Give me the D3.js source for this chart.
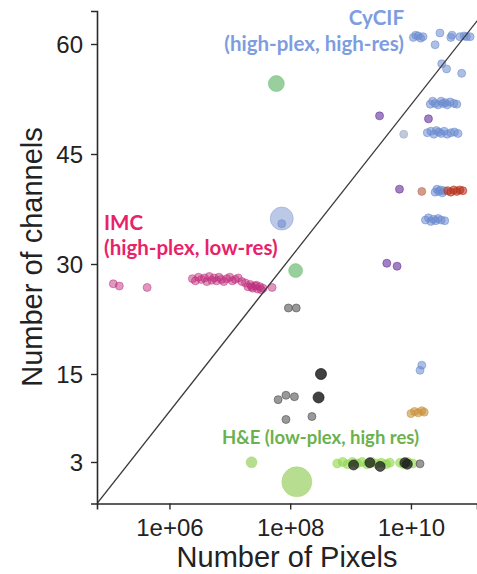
<!DOCTYPE html>
<html>
<head>
<meta charset="utf-8">
<script src="https://cdn.jsdelivr.net/npm/d3@7/dist/d3.min.js"></script>
<style>
  html, body { margin: 0; padding: 0; background: #fff; }
  svg { display: block; }
</style>
</head>
<body>
<svg id="chart" width="477" height="574"></svg>
<script>
// ---- data (log10 of number of pixels, number of channels) ----
const imcLogPx = [5.07, 5.17, 5.63, 6.38, 6.43, 6.48, 6.53, 6.58, 6.62, 6.66, 6.70, 6.74, 6.78, 6.82, 6.86, 6.90, 6.95, 7.00, 7.04, 7.09, 7.14, 7.20, 7.26, 7.30, 7.34, 7.38, 7.42, 7.46, 7.50, 7.55, 7.70, 7.36, 7.44, 7.52];
const imcCh    = [27.3, 27.0, 26.8, 28.0, 27.7, 28.2, 27.9, 28.1, 27.6, 28.3, 27.8, 28.1, 27.7, 28.2, 27.9, 27.6, 28.0, 28.2, 27.7, 27.9, 28.1, 27.6, 27.4, 26.9, 27.2, 26.7, 27.0, 26.6, 26.9, 26.7, 26.8, 26.9, 27.1, 26.5];

const cycifLogPx = [10.04, 10.08, 10.12, 10.20, 10.16, 10.40, 10.48, 10.68, 10.66, 10.81, 10.88, 10.92, 10.98,
                    10.51, 10.59, 10.84,
                    10.32, 10.36, 10.40, 10.45, 10.50, 10.53, 10.57, 10.60, 10.65, 10.71, 10.76,
                    10.27, 10.33, 10.38, 10.42, 10.46, 10.50, 10.55, 10.60, 10.66, 10.72, 10.78,
                    10.40, 10.43, 10.46, 10.49, 10.52, 10.55,
                    10.24, 10.29, 10.33, 10.37, 10.41, 10.45, 10.50, 10.56,
                    10.18, 10.15, 7.86];
const cycifCh    = [60.9, 61.2, 61.1, 61.0, 60.8, 59.9, 61.5, 61.2, 60.9, 61.0, 61.1, 61.0, 61.0,
                    57.3, 56.6, 56.0,
                    51.8, 52.2, 51.9, 51.7, 52.2, 51.9, 52.0, 51.7, 52.1, 51.9, 51.8,
                    47.9, 48.1, 47.7, 48.2, 48.0, 47.8, 48.1, 47.7, 47.9, 48.0, 47.8,
                    39.8, 40.2, 39.9, 40.1, 39.7, 40.0,
                    36.0, 36.3, 35.8, 36.1, 35.9, 36.2, 36.0, 35.9,
                    16.2, 15.5, 35.5];
const cycifBigLogPx = [7.86];
const cycifBigCh    = [36.2];

const paleLogPx = [9.88];
const paleCh    = [47.7];

const purpleLogPx = [9.48, 10.29, 9.81, 9.60, 9.77];
const purpleCh    = [50.2, 49.8, 40.2, 30.1, 29.7];

const redLogPx = [10.18, 10.61, 10.66, 10.71, 10.76, 10.81, 10.86];
const redCh    = [39.9, 40.0, 39.8, 40.1, 39.9, 40.1, 40.0];

const orangeLogPx = [10.00, 10.06, 10.12, 10.18, 10.22];
const orangeCh    = [9.6, 9.9, 9.7, 10.0, 9.8];

const midGreenLogPx = [7.77, 8.09];
const midGreenCh    = [54.6, 29.1];

const heLogPx = [8.78, 8.87, 8.95, 9.03, 9.11, 9.19, 9.27, 9.35, 9.43, 9.51, 9.59, 9.65, 9.82, 9.88, 9.95, 10.03];
const heCh    = [2.8, 3.0, 2.7, 3.0, 2.8, 3.0, 2.7, 3.0, 2.8, 2.9, 2.7, 2.9, 2.9, 2.7, 3.0, 2.8];
const heSmallLogPx = [7.36];
const heSmallCh    = [2.96];
const heBigLogPx = [8.11];
const heBigCh    = [0.3];

const grayLogPx = [7.80, 7.93, 8.07, 7.93, 8.36, 7.97, 8.10, 10.15];
const grayCh    = [11.5, 12.1, 11.9, 8.8, 9.2, 24.0, 24.0, 2.75];

const blackLogPx = [8.51, 8.47, 9.05, 9.32, 9.49, 9.90, 9.94];
const blackCh    = [15.0, 11.8, 2.6, 2.9, 2.4, 2.9, 2.7];

const diagLogPx = [4.8, 11.1];
const diagCh    = [-2.66, 63.2];

const xTicks = [1e6, 1e8, 1e10];
const yTicks = [3, 15, 30, 45, 60];

const labelCycif = ["CyCIF", "(high-plex, high-res)"];
const labelImc   = ["IMC", "(high-plex, low-res)"];
const labelHe    = "H&E (low-plex, high res)";

// ---- layout ----
const W = 477, H = 574;
const m = {left: 97, top: 11, right: 0, bottom: 70.5};
const svg = d3.select("#chart");

const x = d3.scaleLog().domain([Math.pow(10, 4.8), Math.pow(10, 11.094)]).range([m.left, W - m.right]);
const y = d3.scaleLinear().domain([-2.66, 64.5]).range([H - m.bottom, m.top]);

svg.append("defs").append("clipPath").attr("id", "clip")
  .append("rect").attr("x", m.left).attr("y", m.top).attr("width", W - m.left - m.right).attr("height", H - m.bottom - m.top);

const blur = svg.select("defs").append("filter").attr("id", "soft").attr("x", "-50%").attr("y", "-50%").attr("width", "200%").attr("height", "200%");
blur.append("feGaussianBlur").attr("stdDeviation", 0.7);

const plot = svg.append("g").attr("clip-path", "url(#clip)");

function group(logPx, ch, color, r, fo, so) {
  const g = plot.append("g").attr("filter", "url(#soft)");
  g.selectAll("circle").data(logPx.map((v, i) => ({px: Math.pow(10, v), ch: ch[i]})))
    .enter().append("circle")
    .attr("cx", d => x(d.px))
    .attr("cy", d => y(d.ch))
    .attr("r", r)
    .attr("fill", color)
    .attr("fill-opacity", fo)
    .attr("stroke", color)
    .attr("stroke-opacity", so)
    .attr("stroke-width", 0.9);
}

group(heBigLogPx, heBigCh, "#9fd36b", 15, 0.75, 0.5);
group(heSmallLogPx, heSmallCh, "#9fd36b", 5.5, 0.75, 0.5);
group(midGreenLogPx.slice(0,1), midGreenCh.slice(0,1), "#6dbb72", 8, 0.7, 0.5);
group(midGreenLogPx.slice(1), midGreenCh.slice(1), "#6dbb72", 7, 0.7, 0.5);
group(cycifBigLogPx, cycifBigCh, "#8ea3d6", 11.5, 0.6, 0.6);
group(imcLogPx, imcCh, "#c0307e", 4, 0.5, 0.55);
group(cycifLogPx, cycifCh, "#6b8bcf", 4, 0.55, 0.6);
group(paleLogPx, paleCh, "#9aa6bf", 4, 0.6, 0.6);
group(purpleLogPx, purpleCh, "#6f3ea3", 4, 0.65, 0.7);
group(redLogPx.slice(0,1), redCh.slice(0,1), "#c0705a", 4, 0.7, 0.6);
group(redLogPx.slice(1), redCh.slice(1), "#b8321c", 4, 0.6, 0.6);
group(orangeLogPx, orangeCh, "#c8913a", 4, 0.6, 0.6);
group(heLogPx, heCh, "#8ed54a", 4.5, 0.6, 0.5);
group(grayLogPx, grayCh, "#555555", 4, 0.6, 0.7);
group(blackLogPx.slice(0,2), blackCh.slice(0,2), "#1c1c1c", 5.5, 0.85, 0.8);
group(blackLogPx.slice(2), blackCh.slice(2), "#1c1c1c", 5, 0.75, 0.7);

// diagonal reference line
plot.append("path")
  .datum(diagLogPx.map((v, i) => [Math.pow(10, v), diagCh[i]]))
  .attr("d", d3.line().x(d => x(d[0])).y(d => y(d[1])))
  .attr("fill", "none").attr("stroke", "#3a3a3a").attr("stroke-width", 1.3);

// axes
const xAxis = svg.append("g").attr("transform", `translate(0,${H - m.bottom})`)
  .call(d3.axisBottom(x).tickValues(xTicks).tickSize(6).tickPadding(9.5)
    .tickFormat(d => "1e+" + String(Math.round(Math.log10(d))).padStart(2, "0")));
const yAxis = svg.append("g").attr("transform", `translate(${m.left},0)`)
  .call(d3.axisLeft(y).tickValues(yTicks).tickSize(6).tickPadding(8));

[xAxis, yAxis].forEach(a => {
  a.select(".domain").attr("stroke", "#2a2a2a").attr("stroke-width", 1.6);
  a.selectAll(".tick line").attr("stroke", "#2a2a2a").attr("stroke-width", 1.4);
  a.selectAll(".tick text").attr("fill", "#222").style("font-family", "Liberation Sans, Arial, sans-serif").style("font-size", "24px");
});
yAxis.selectAll(".tick text").attr("dy", "0.35em");

// axis titles
svg.append("text").attr("x", (m.left + W - m.right) / 2).attr("y", 567)
  .attr("text-anchor", "middle").attr("fill", "#222")
  .style("font-family", "Liberation Sans, Arial, sans-serif").style("font-size", "29px")
  .text("Number of Pixels");
svg.append("text").attr("transform", `translate(42,257) rotate(-90)`)
  .attr("text-anchor", "middle").attr("fill", "#222")
  .style("font-family", "Liberation Sans, Arial, sans-serif").style("font-size", "29px")
  .text("Number of channels");

// annotations
const ann = svg.append("g").style("font-family", "Lato, sans-serif").style("font-weight", "700");
ann.append("text").attr("x", 404).attr("y", 25).attr("text-anchor", "end").attr("fill", "#7d9de0").style("font-size", "20.5px").text(labelCycif[0]);
ann.append("text").attr("x", 404).attr("y", 51).attr("text-anchor", "end").attr("fill", "#7d9de0").style("font-size", "20.5px").text(labelCycif[1]);
ann.append("text").attr("x", 104).attr("y", 230).attr("fill", "#e8226a").style("font-size", "20.5px").text(labelImc[0]);
ann.append("text").attr("x", 104).attr("y", 255).attr("fill", "#e8226a").style("font-size", "20.5px").text(labelImc[1]);
ann.append("text").attr("x", 222).attr("y", 444).attr("fill", "#6cb14c").style("font-size", "18.5px").text(labelHe);
</script>
</body>
</html>
